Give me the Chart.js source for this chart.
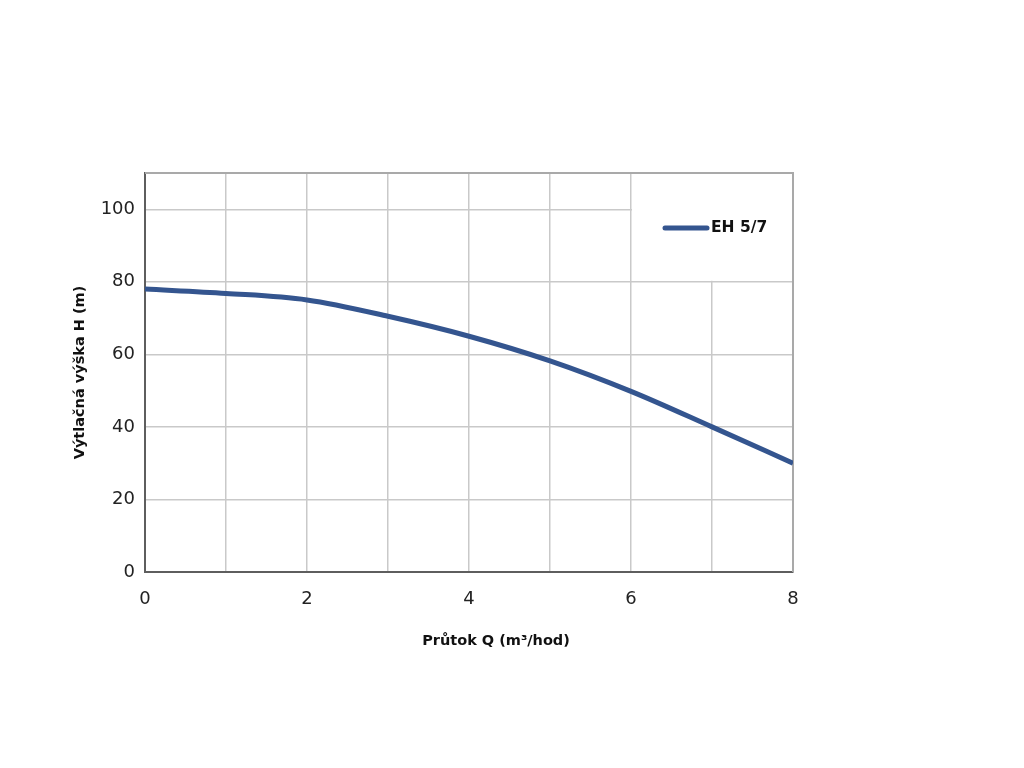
<!DOCTYPE html>
<html>
<head>
<meta charset="utf-8">
<script src="https://cdn.jsdelivr.net/npm/chart.js@4/dist/chart.umd.min.js"></script>
<style>
  body { margin: 0; background: #fff; }
  #wrap { width: 1024px; height: 768px; }
</style>
</head>
<body>
<div id="wrap"><canvas id="chart" width="1024" height="768"></canvas></div>
<script>
// pump curve EH 5/7
const flow = [0, 1, 2, 3, 4, 5, 6, 7, 8];
const head = [78, 76.8, 75, 70.5, 65, 58.2, 49.8, 40, 30];
const seriesName = 'EH 5/7';
const xTitle = 'Průtok Q (m³/hod)';
const yTitle = 'Výtlačná výška H (m)';
const yTickValues = [0, 20, 40, 60, 80, 100];

const lineColor = '#34558f';
const tickFont = '"DejaVu Sans", sans-serif';
const boldFont = '"DejaVu Sans", sans-serif';

// frame, legend box and x title (sits a bit right of centre in the original)
const frameAndLegend = {
    id: 'frameAndLegend',
    beforeDatasetsDraw(chart) {
        const {ctx, chartArea, scales} = chart;
        const x = scales.x, y = scales.y;
        ctx.save();
        // white box hiding the grid behind the legend
        const bx = x.getPixelForValue(6) + 1;
        const by = chartArea.top;
        const bh = y.getPixelForValue(80) - 1 - by;
        ctx.fillStyle = '#fff';
        ctx.fillRect(bx, by, chartArea.right - bx, bh);
        // top and right border
        ctx.strokeStyle = '#a9a9a9';
        ctx.lineWidth = 2;
        ctx.beginPath();
        ctx.moveTo(chartArea.left, chartArea.top);
        ctx.lineTo(chartArea.right, chartArea.top);
        ctx.lineTo(chartArea.right, chartArea.bottom);
        ctx.stroke();
        ctx.restore();
    },
    afterDatasetsDraw(chart) {
        const {ctx} = chart;
        const ly = 228;
        ctx.save();
        ctx.strokeStyle = lineColor;
        ctx.lineWidth = 5;
        ctx.lineCap = 'round';
        ctx.beginPath();
        ctx.moveTo(665, ly);
        ctx.lineTo(707, ly);
        ctx.stroke();
        ctx.fillStyle = '#111';
        ctx.font = 'bold 15.5px ' + boldFont;
        ctx.textBaseline = 'middle';
        ctx.fillText(chart.data.datasets[0].label, 711, ly);

        ctx.font = 'bold 14.5px ' + boldFont;
        ctx.textAlign = 'center';
        ctx.fillText(xTitle, 496, 641);
        ctx.restore();
    }
};

const ctx = document.getElementById('chart');
const chart = new Chart(ctx, {
    type: 'line',
    data: {
        datasets: [{
            label: seriesName,
            data: flow.map((q, i) => ({x: q, y: head[i]})),
            borderColor: lineColor,
            backgroundColor: lineColor,
            borderWidth: 5,
            pointRadius: 0,
            cubicInterpolationMode: 'monotone',
            fill: false
        }]
    },
    options: {
        responsive: false,
        animation: false,
        layout: {
            padding: {left: 72, top: 173, right: 231, bottom: 119}
        },
        plugins: {
            legend: {display: false},
            tooltip: {enabled: false}
        },
        scales: {
            x: {
                type: 'linear',
                min: 0,
                max: 8,
                afterFit(scale) { scale.height = 77; },
                ticks: {
                    stepSize: 1,
                    padding: 17,
                    color: '#222',
                    font: {family: tickFont, size: 18},
                    callback: v => (v % 2 === 0 ? v : '')
                },
                grid: {color: '#c9c9c9', lineWidth: 1.5, drawTicks: false},
                border: {color: '#5e5e5e', width: 2},
                title: {display: false, text: xTitle}
            },
            y: {
                min: 0,
                max: 110,
                afterFit(scale) { scale.width = 73; },
                afterBuildTicks(scale) {
                    scale.ticks = yTickValues.map(v => ({value: v}));
                },
                ticks: {
                    padding: 10,
                    color: '#222',
                    font: {family: tickFont, size: 18}
                },
                grid: {color: '#c9c9c9', lineWidth: 1.5, drawTicks: false},
                border: {color: '#5e5e5e', width: 2},
                title: {
                    display: true,
                    text: yTitle,
                    color: '#111',
                    padding: 0,
                    font: {family: boldFont, size: 14.5, weight: 'bold'}
                }
            }
        }
    },
    plugins: [frameAndLegend]
});
</script>
</body>
</html>
